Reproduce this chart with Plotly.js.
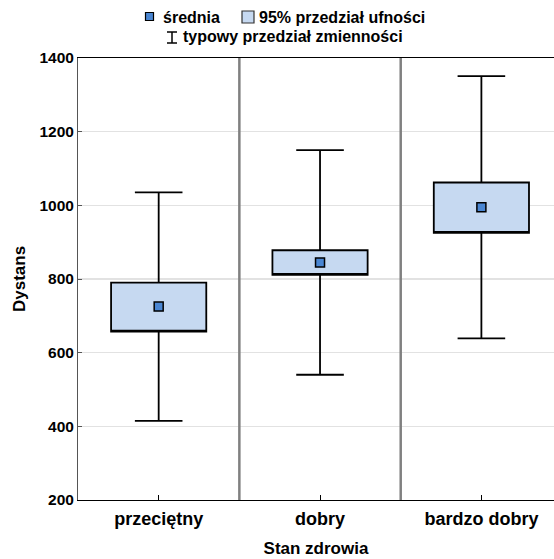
<!DOCTYPE html>
<html>
<head>
<meta charset="utf-8">
<script src="https://cdn.plot.ly/plotly-3.0.1.min.js"></script>
<style>html,body{margin:0;padding:0;background:#fff;}#chart{width:554px;height:559px;}</style>
</head>
<body>
<div id="chart"></div>
<script>
// ---- data ----
const categories = ['przeciętny', 'dobry', 'bardzo dobry'];
const means  = [725, 845, 995];
const ciLow  = [657, 811, 925];
const ciHigh = [790, 878, 1062];
const sdLow  = [415, 540, 639];
const sdHigh = [1035, 1150, 1351];
const yTicks = [200, 400, 600, 800, 1000, 1200, 1400];

const FONT = 'Liberation Sans, Arial, sans-serif';
const W = 554, H = 559;
const M = {l: 78, r: 0, t: 58, b: 59};
const pw = W - M.l - M.r, ph = H - M.t - M.b;
const px = x => (x - M.l) / pw;
const py = y => (H - M.b - y) / ph;

const xs = categories.map((c, i) => i);

const boxTrace = {
  type: 'box',
  x: xs,
  q1: ciLow,
  median: ciLow,
  q3: ciHigh,
  lowerfence: sdLow,
  upperfence: sdHigh,
  width: 0.59,
  whiskerwidth: 0.5,
  fillcolor: '#c6d9f1',
  line: {color: '#000000', width: 1.8},
  boxpoints: false,
  hoverinfo: 'skip',
  showlegend: false
};

const meanTrace = {
  type: 'scatter',
  mode: 'markers',
  x: xs,
  y: means,
  marker: {symbol: 'square', size: 9, color: '#4a86d2', line: {color: '#000', width: 1.5}},
  hoverinfo: 'skip',
  showlegend: false
};

const shapes = [];
for (let i = 0; i < categories.length - 1; i++) {
  shapes.push({type: 'line', xref: 'x', yref: 'paper', x0: i + 0.5, x1: i + 0.5, y0: 0, y1: 1,
    line: {color: '#808080', width: 2.5}});
}
// legend icons
shapes.push({type: 'rect', xref: 'paper', yref: 'paper', x0: px(145.5), x1: px(153.5), y0: py(20.5), y1: py(12.5),
  fillcolor: '#4a86d2', line: {color: '#000', width: 1.2}});
shapes.push({type: 'rect', xref: 'paper', yref: 'paper', x0: px(242), x1: px(254), y0: py(23), y1: py(11),
  fillcolor: '#c6d9f1', line: {color: '#333', width: 1.2}});
shapes.push({type: 'line', xref: 'paper', yref: 'paper', x0: px(172), x1: px(172), y0: py(32), y1: py(43),
  line: {color: '#000', width: 1.5}});
shapes.push({type: 'line', xref: 'paper', yref: 'paper', x0: px(167), x1: px(177), y0: py(32), y1: py(32),
  line: {color: '#000', width: 1.5}});
shapes.push({type: 'line', xref: 'paper', yref: 'paper', x0: px(167), x1: px(177), y0: py(43), y1: py(43),
  line: {color: '#000', width: 1.5}});

const legFont = {family: FONT, size: 16, color: '#000'};
const annotations = [
  {text: '<b>średnia</b>', x: px(161), y: py(17), xref: 'paper', yref: 'paper', xanchor: 'left', yanchor: 'middle', showarrow: false, font: legFont},
  {text: '<b>95% przedział ufności</b>', x: px(257), y: py(17), xref: 'paper', yref: 'paper', xanchor: 'left', yanchor: 'middle', showarrow: false, font: legFont},
  {text: '<b>typowy przedział zmienności</b>', x: px(181), y: py(37), xref: 'paper', yref: 'paper', xanchor: 'left', yanchor: 'middle', showarrow: false, font: legFont}
];

const layout = {
  width: W, height: H,
  margin: M,
  paper_bgcolor: '#ffffff',
  plot_bgcolor: '#ffffff',
  showlegend: false,
  font: {family: FONT, color: '#000'},
  xaxis: {
    range: [-0.5, 2.45],
    tickvals: xs,
    ticktext: categories.map(c => '<b>' + c + '</b>'),
    tickfont: {family: FONT, size: 18, color: '#000'},
    ticks: 'inside', ticklen: 5, tickcolor: '#000',
    ticklabelstandoff: 2,
    showline: true, linecolor: '#000', linewidth: 1.2, mirror: true,
    showgrid: false, zeroline: false,
    title: {text: '<b>Stan zdrowia</b>', font: {family: FONT, size: 17, color: '#000'}, standoff: 14}
  },
  yaxis: {
    range: [200, 1400],
    tickvals: yTicks,
    ticktext: yTicks.map(v => '<b>' + v + '</b>'),
    tickfont: {family: FONT, size: 15.5, color: '#000'},
    ticks: 'inside', ticklen: 4, tickcolor: '#555',
    showline: true, linecolor: '#555', linewidth: 1,
    showgrid: true, gridcolor: '#e2e2e2', gridwidth: 1.5,
    zeroline: false,
    title: {text: '<b>Dystans</b>', font: {family: FONT, size: 17, color: '#000'}, standoff: 9}
  },
  shapes: shapes,
  annotations: annotations
};

Plotly.newPlot('chart', [boxTrace, meanTrace], layout, {staticPlot: true, displayModeBar: false});
</script>
</body>
</html>
